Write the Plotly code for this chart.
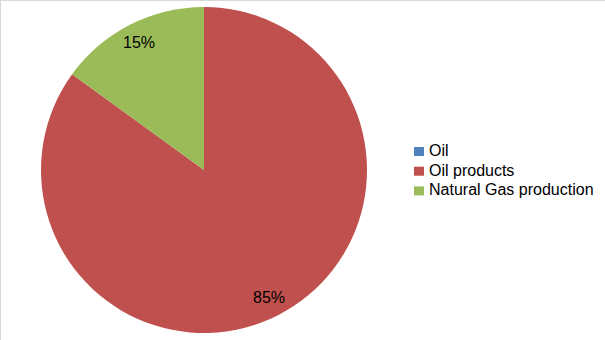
import math
import plotly.graph_objects as go

labels = ["Oil", "Oil products", "Natural Gas production"]
values = [0, 85, 15]
colors = ["#4F81BD", "#C0504D", "#9BBB59"]

W, H = 605, 340
cx, cy, R = 204, 170, 163
FONT = "Liberation Sans, Arial, sans-serif"

fig = go.Figure()
fig.add_trace(go.Pie(
    labels=labels, values=values, sort=False, direction="clockwise", rotation=0,
    marker=dict(colors=colors, line=dict(width=0)),
    textinfo="none", hoverinfo="label+percent",
    domain=dict(x=[(cx - R) / W, (cx + R) / W], y=[1 - (cy + R) / H, 1 - (cy - R) / H]),
    showlegend=False,
))

# percentage labels positioned from the data
total = sum(values)
cum = 0
annotations = []
for v in values:
    if v > 0:
        mid = (cum + v / 2) / total * 2 * math.pi
        r = 0.88 * R
        x = cx + r * math.sin(mid)
        y = cy - r * math.cos(mid)
        annotations.append(dict(
            x=x / W, y=1 - y / H, xref="paper", yref="paper",
            xanchor="center", yanchor="middle",
            text=f"{round(v / total * 100)}%", showarrow=False,
            font=dict(family=FONT, size=16, color="#000000"),
        ))
    cum += v

# legend (built from labels / colors)
shapes = []
lx, ly0, dy = 414, 151.5, 19.7
for i, (lab, col) in enumerate(zip(labels, colors)):
    yc = ly0 + i * dy
    shapes.append(dict(type="rect", xref="paper", yref="paper",
                       x0=lx / W, x1=(lx + 10) / W,
                       y0=1 - (yc + 4.5) / H, y1=1 - (yc - 4.5) / H,
                       fillcolor=col, line=dict(width=0)))
    annotations.append(dict(
        x=(lx + 13) / W, y=1 - (yc - 1) / H, xref="paper", yref="paper",
        xanchor="left", yanchor="middle", text=lab, showarrow=False,
        font=dict(family=FONT, size=16, color="#000000"),
    ))

shapes += [
    dict(type="line", xref="paper", yref="paper", x0=0, x1=1, y0=1, y1=1,
         line=dict(color="#D9D9D9", width=2)),
    dict(type="line", xref="paper", yref="paper", x0=0, x1=0, y0=0, y1=1,
         line=dict(color="#D9D9D9", width=2)),
]

fig.update_layout(
    width=W, height=H,
    margin=dict(l=0, r=0, t=0, b=0),
    paper_bgcolor="white", plot_bgcolor="white",
    font=dict(family=FONT, size=16, color="#000000"),
    showlegend=False,
    annotations=annotations,
    shapes=shapes,
)

fig.write_html("out.html")
